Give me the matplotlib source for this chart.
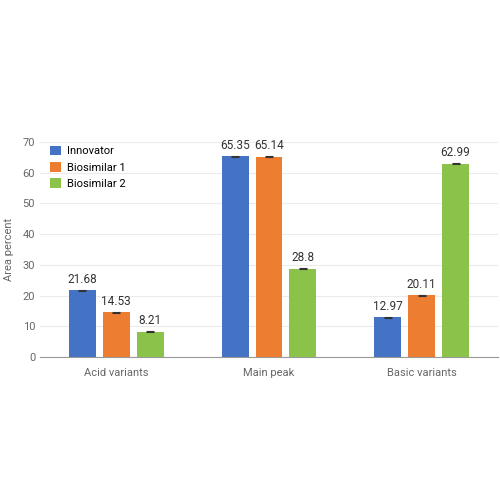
import matplotlib.pyplot as plt
import numpy as np

plt.rcParams['font.family'] = ['Roboto', 'DejaVu Sans']

categories = ["Acid variants", "Main peak", "Basic variants"]
series_names = ["Innovator", "Biosimilar 1", "Biosimilar 2"]
innovator = [21.68, 65.35, 12.97]
biosimilar1 = [14.53, 65.14, 20.11]
biosimilar2 = [8.21, 28.8, 62.99]
errors = [0.15, 0.15, 0.15]

colors = ["#4472C4", "#ED7D31", "#8BC34A"]

fig = plt.figure(figsize=(5, 5), dpi=100)
ax = fig.add_axes([0.08, 0.286, 0.916, 0.43])

x = np.arange(len(categories))
width = 0.176
step = 0.222
for i, (vals, name, c) in enumerate(zip([innovator, biosimilar1, biosimilar2], series_names, colors)):
    pos = x + (i - 1) * step
    ax.bar(pos, vals, width, color=c, label=name, zorder=3,
           yerr=errors, capsize=3, error_kw=dict(elinewidth=0.8, capthick=0.8, ecolor="#333333"))
    for p, v in zip(pos, vals):
        ax.text(p, v + 1.5, f"{v:g}", ha="center", va="bottom", fontsize=8.5, color="#333333")

ax.set_xlim(-0.5, 2.5)
ax.set_ylim(0, 70)
ax.set_yticks(range(0, 71, 10))
ax.set_xticks(x)
ax.set_xticklabels(categories)
ax.tick_params(axis="both", length=0, labelsize=8, labelcolor="#666666")
ax.tick_params(axis="x", pad=8)
ax.grid(axis="y", color="#ebebeb", linewidth=0.8, zorder=0)
for s in ["top", "right", "left"]:
    ax.spines[s].set_visible(False)
ax.spines["bottom"].set_color("#999999")
ax.set_ylabel("Area percent", fontsize=8, color="#666666", labelpad=6)

ax.legend(loc="upper left", bbox_to_anchor=(0.0, 1.03), frameon=False, fontsize=8,
          handlelength=1.0, handleheight=1.0, handletextpad=0.5, labelspacing=0.5)

fig.savefig("out.png")
